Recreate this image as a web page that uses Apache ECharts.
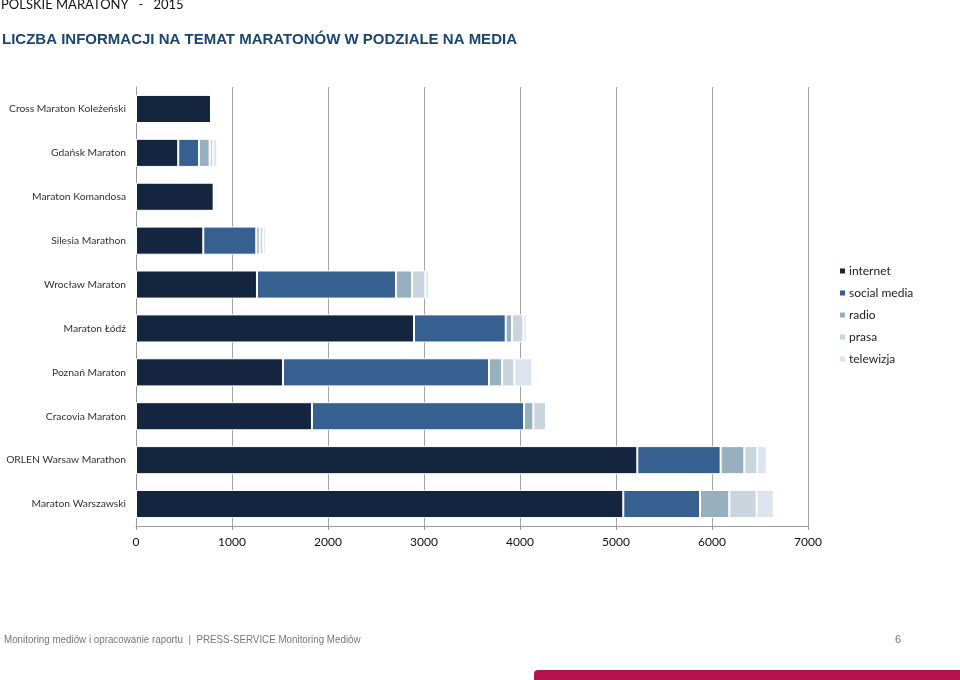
<!DOCTYPE html>
<html>
<head>
<meta charset="utf-8">
<style>
html,body{margin:0;padding:0;background:#fff;}
#chart{width:960px;height:680px;}
</style>
<script src="https://cdn.jsdelivr.net/npm/echarts@6/dist/echarts.min.js"></script>
</head>
<body>
<div id="chart"></div>
<script>
var categories = ['Cross Maraton Koleżeński','Gdańsk Maraton','Maraton Komandosa','Silesia Marathon','Wrocław Maraton','Maraton Łódź','Poznań Maraton','Cracovia Maraton','ORLEN Warsaw Marathon','Maraton Warszawski'];
var internet   = [781, 440, 809, 701, 1260, 2896, 1531, 1833, 5222, 5076];
var social     = [0, 216, 0, 552, 1448, 955, 2146, 2209, 868, 799];
var radio      = [0, 111, 0, 35, 167, 66, 136, 97, 247, 305];
var prasa      = [0, 38, 18, 38, 139, 118, 128, 132, 135, 285];
var telewizja  = [0, 42, 20, 28, 38, 34, 187, 21, 97, 178];
var xTicks = [0, 1000, 2000, 3000, 4000, 5000, 6000, 7000];

var seriesNames = ['internet','social media','radio','prasa','telewizja'];
var seriesData = [internet, social, radio, prasa, telewizja];
var colors = ['#13253f','#36608f','#97b0bf','#cbd5de','#dbe4ef'];

var chart = echarts.init(document.getElementById('chart'));
var font = 'Lato, "Open Sans", sans-serif';
chart.setOption({
  animation: false,
  color: colors,
  textStyle: {fontFamily: font},
  grid: {left: 136, top: 87, width: 672, height: 439, containLabel: false, outerBoundsMode: 'none'},
  legend: {
    orient: 'vertical', left: 833, top: 260, itemGap: 10,
    itemWidth: 7, itemHeight: 7, icon: 'rect',
    textStyle: {fontSize: 12, color: '#222', fontFamily: font, padding: [0,0,0,-2]},
    data: seriesNames
  },
  xAxis: {
    type: 'value', min: xTicks[0], max: xTicks[xTicks.length-1], interval: 1000,
    axisLine: {show: true, lineStyle: {color: '#999'}},
    axisTick: {show: true, length: 4, lineStyle: {color: '#999'}},
    axisLabel: {fontSize: 12, color: '#111', margin: 10, fontFamily: font, formatter: function(v){ return String(v); }},
    splitLine: {show: true, lineStyle: {color: '#a6a6a6'}}
  },
  yAxis: {
    type: 'category', data: categories, inverse: true,
    axisLine: {show: true, lineStyle: {color: '#999'}},
    axisTick: {show: false},
    axisLabel: {fontSize: 10.3, color: '#333', margin: 10, fontFamily: font}
  },
  series: seriesNames.map(function(n, i){
    return {
      name: n, type: 'bar', stack: 'total', data: seriesData[i],
      barCategoryGap: '36%',
      itemStyle: {color: colors[i], borderColor: '#fff', borderWidth: 1}
    };
  }),
  graphic: [
    {type: 'text', left: 1, top: -2, style: {text: 'POLSKIE MARATONY   -   2015', fontSize: 13, fill: '#111', fontFamily: font}},
    {type: 'text', left: 2, top: 32, style: {text: 'LICZBA INFORMACJI NA TEMAT MARATONÓW W PODZIALE NA MEDIA', fontSize: 15, fontWeight: 'bold', fill: '#1a4670', fontFamily: '"Liberation Sans", Arial, sans-serif'}},
    {type: 'text', x: 4, y: 634, scaleX: 0.89, style: {text: 'Monitoring mediów i opracowanie raportu  |  PRESS-SERVICE Monitoring Mediów', fontSize: 11, fill: '#777', fontFamily: '"Liberation Sans", Arial, sans-serif'}},
    {type: 'text', left: 895, top: 634, style: {text: '6', fontSize: 11, fill: '#777', fontFamily: '"Liberation Sans", Arial, sans-serif'}},
    {type: 'rect', shape: {x: 534, y: 670, width: 430, height: 14, r: [4,0,0,0]}, style: {fill: '#b3124a'}}
  ]
});
</script>
</body>
</html>
